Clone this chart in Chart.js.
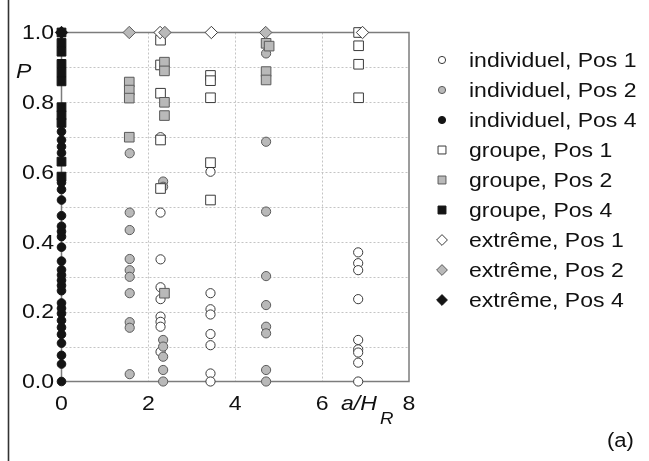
<!DOCTYPE html>
<html>
<head>
<meta charset="utf-8">
<script src="https://cdn.jsdelivr.net/npm/chart.js@4/dist/chart.umd.min.js"></script>
<style>
  html, body { margin: 0; padding: 0; background: #fff; }
  canvas { display: block; }
</style>
</head>
<body>
<canvas id="c" width="649" height="461"></canvas>
<script>
// Axis ticks and grid positions
const xTicks = [0, 2, 4, 6, 8];
const yTicks = [0, 0.2, 0.4, 0.6, 0.8, 1.0];
const xGrid = [2, 4, 6];
const yGrid = [0.1, 0.2, 0.3, 0.4, 0.5, 0.6, 0.7, 0.8, 0.9];

// Series labels
const seriesNames = [
  'individuel, Pos 1', 'individuel, Pos 2', 'individuel, Pos 4',
  'groupe, Pos 1', 'groupe, Pos 2', 'groupe, Pos 4',
  'extrême, Pos 1', 'extrême, Pos 2', 'extrême, Pos 4'
];

// Measured points [a/H_R, P]
const indivPos1 = [
  [2.28, 0.70], [2.28, 0.484], [2.28, 0.350], [2.28, 0.270], [2.28, 0.236],
  [2.28, 0.186], [2.28, 0.171], [2.28, 0.157], [2.28, 0.085],
  [3.43, 0.601], [3.43, 0.253], [3.43, 0.207], [3.43, 0.192], [3.43, 0.136],
  [3.43, 0.104], [3.43, 0.023], [3.43, 0.0],
  [6.83, 0.370], [6.83, 0.339], [6.83, 0.319], [6.83, 0.236], [6.83, 0.119],
  [6.83, 0.092], [6.83, 0.083], [6.83, 0.054], [6.83, 0.0], [6.86, 1.0]
];
const indivPos2 = [
  [1.57, 0.654], [1.57, 0.484], [1.57, 0.434], [1.57, 0.351], [1.57, 0.319],
  [1.57, 0.300], [1.57, 0.253], [1.57, 0.170], [1.57, 0.154], [1.57, 0.021],
  [2.34, 0.573], [2.34, 0.558], [2.34, 0.119], [2.34, 0.100], [2.34, 0.071],
  [2.34, 0.033], [2.34, 0.0],
  [4.71, 0.94], [4.71, 0.687], [4.71, 0.487], [4.71, 0.302], [4.71, 0.219],
  [4.71, 0.157], [4.71, 0.138], [4.71, 0.033], [4.71, 0.0]
];
const indivPos4 = [
  [0, 0.0], [0, 0.05], [0, 0.075], [0, 0.11], [0, 0.135], [0, 0.155], [0, 0.175],
  [0, 0.195], [0, 0.21], [0, 0.225], [0, 0.26], [0, 0.275], [0, 0.29], [0, 0.305],
  [0, 0.32], [0, 0.345], [0, 0.385], [0, 0.415], [0, 0.43], [0, 0.445], [0, 0.475],
  [0, 0.52], [0, 0.55], [0, 0.57], [0, 0.655], [0, 0.673], [0, 0.692], [0, 0.716]
];
const groupPos1 = [
  [2.28, 0.978], [2.28, 0.907], [2.28, 0.826], [2.28, 0.692], [2.28, 0.553],
  [3.43, 0.877], [3.43, 0.862], [3.43, 0.813], [3.43, 0.627], [3.43, 0.52],
  [6.84, 1.0], [6.84, 0.962], [6.84, 0.909], [6.84, 0.813]
];
const groupPos2 = [
  [1.56, 0.858], [1.56, 0.835], [1.56, 0.812], [1.56, 0.70],
  [2.37, 0.915], [2.37, 0.890], [2.37, 0.80], [2.37, 0.762], [2.37, 0.253],
  [4.71, 0.969], [4.78, 0.961], [4.71, 0.888], [4.71, 0.864]
];
const groupPos4 = [
  [0, 1.0], [0, 0.97], [0, 0.945], [0, 0.91], [0, 0.885], [0, 0.86],
  [0, 0.786], [0, 0.763], [0, 0.741], [0, 0.63], [0, 0.587]
];
const extrPos1 = [[2.27, 1.0], [3.45, 1.0], [6.93, 1.0]];
const extrPos2 = [[1.56, 1.0], [2.38, 1.0], [4.70, 1.0]];
const extrPos4 = [[0, 1.0]];

const seriesData = [indivPos1, indivPos2, indivPos4, groupPos1, groupPos2, groupPos4, extrPos1, extrPos2, extrPos4];

// Marker styles
const WHITE = '#ffffff', GREY = '#b9b9b9', BLACK = '#141414';
const styles = [
  { shape: 'circle',  r: 4.6, fill: WHITE, stroke: '#3a3a3a', lr: 3.6 },
  { shape: 'circle',  r: 4.6, fill: GREY,  stroke: '#5a5a5a', lr: 3.6 },
  { shape: 'circle',  r: 4.3, fill: BLACK, stroke: BLACK,     lr: 3.6 },
  { shape: 'rect',    r: 6.8, fill: WHITE, stroke: '#3a3a3a', lr: 5.6 },
  { shape: 'rect',    r: 6.8, fill: GREY,  stroke: '#5a5a5a', lr: 5.6 },
  { shape: 'rect',    r: 6.2, fill: BLACK, stroke: BLACK,     lr: 5.6 },
  { shape: 'rectRot', r: 6.2, fill: WHITE, stroke: '#3a3a3a', lr: 5.4 },
  { shape: 'rectRot', r: 6.2, fill: GREY,  stroke: '#5a5a5a', lr: 5.4 },
  { shape: 'rectRot', r: 6.2, fill: BLACK, stroke: BLACK,     lr: 5.4 }
];

const datasets = seriesData.map((pts, i) => ({
  label: seriesNames[i],
  data: pts.map(p => ({ x: p[0], y: p[1] })),
  pointStyle: styles[i].shape,
  pointRadius: styles[i].r,
  pointHoverRadius: styles[i].r,
  pointBackgroundColor: styles[i].fill,
  pointBorderColor: styles[i].stroke,
  pointBorderWidth: 1,
  showLine: false,
  clip: false,
  order: -i
}));

function stretchText(ctx, text, x, y, sx, align) {
  ctx.save();
  ctx.translate(x, y);
  ctx.scale(sx, 1);
  ctx.textAlign = align;
  ctx.fillText(text, 0, 0);
  ctx.restore();
}

// Grid, frame, and labels
const framePlugin = {
  id: 'frame',
  beforeDatasetsDraw(chart) {
    const ctx = chart.ctx;
    const xs = chart.scales.x, ys = chart.scales.y;
    const L = xs.getPixelForValue(0), R = xs.getPixelForValue(8);
    const T = ys.getPixelForValue(1), B = ys.getPixelForValue(0);
    ctx.save();
    ctx.strokeStyle = '#c4c4c4';
    ctx.lineWidth = 1;
    ctx.setLineDash([2, 2]);
    yGrid.forEach(v => {
      const y = Math.round(ys.getPixelForValue(v)) + 0.5;
      ctx.beginPath(); ctx.moveTo(L, y); ctx.lineTo(R, y); ctx.stroke();
    });
    xGrid.forEach(v => {
      const x = Math.round(xs.getPixelForValue(v)) + 0.5;
      ctx.beginPath(); ctx.moveTo(x, T); ctx.lineTo(x, B); ctx.stroke();
    });
    ctx.setLineDash([]);
    ctx.strokeStyle = '#7c7c7c';
    ctx.lineWidth = 1.5;
    ctx.strokeRect(L, T, R - L, B - T);
    ctx.restore();
  },
  afterDraw(chart) {
    const ctx = chart.ctx;
    const xs = chart.scales.x, ys = chart.scales.y;
    ctx.save();
    ctx.fillStyle = '#111';
    ctx.textBaseline = 'middle';
    ctx.font = '21px "Liberation Sans", Arial, sans-serif';
    yTicks.forEach(v => stretchText(ctx, v.toFixed(1), 54, ys.getPixelForValue(v) + 1, 1.1, 'right'));
    xTicks.forEach(v => stretchText(ctx, String(v), xs.getPixelForValue(v), 404, 1.1, 'center'));

    // axis titles
    ctx.font = 'italic 21px "Liberation Sans", Arial, sans-serif';
    stretchText(ctx, 'P', 16, 72, 1.1, 'left');
    stretchText(ctx, 'a/H', 341, 404, 1.1, 'left');
    ctx.font = 'italic 17px "Liberation Sans", Arial, sans-serif';
    stretchText(ctx, 'R', 380, 419, 1.1, 'left');

    // panel tag
    ctx.font = '20px "Liberation Sans", Arial, sans-serif';
    stretchText(ctx, '(a)', 607, 441, 1.1, 'left');

    // legend
    ctx.font = '20px "Liberation Sans", Arial, sans-serif';
    chart.data.datasets.forEach((ds, i) => {
      const y = 60 + 30 * i;
      const st = styles[i];
      ctx.save();
      ctx.fillStyle = st.fill;
      ctx.strokeStyle = st.stroke;
      ctx.lineWidth = 1;
      Chart.helpers.drawPoint(ctx, { pointStyle: st.shape, radius: st.lr, borderWidth: 1, rotation: 0 }, 442, y);
      ctx.restore();
      stretchText(ctx, ds.label, 469, y + 1, 1.15, 'left');
    });

    // figure edge
    ctx.strokeStyle = '#333';
    ctx.lineWidth = 1.6;
    ctx.beginPath(); ctx.moveTo(8.5, 0); ctx.lineTo(8.5, 461); ctx.stroke();
    ctx.restore();
  }
};

new Chart(document.getElementById('c'), {
  type: 'scatter',
  data: { datasets },
  options: {
    responsive: false,
    animation: false,
    devicePixelRatio: 1,
    events: [],
    layout: { padding: { left: 61.5, top: 32.5, right: 240, bottom: 79.5 } },
    plugins: { legend: { display: false }, tooltip: { enabled: false } },
    scales: {
      x: { type: 'linear', min: 0, max: 8, display: false },
      y: { type: 'linear', min: 0, max: 1, display: false }
    }
  },
  plugins: [framePlugin]
});
</script>
</body>
</html>
